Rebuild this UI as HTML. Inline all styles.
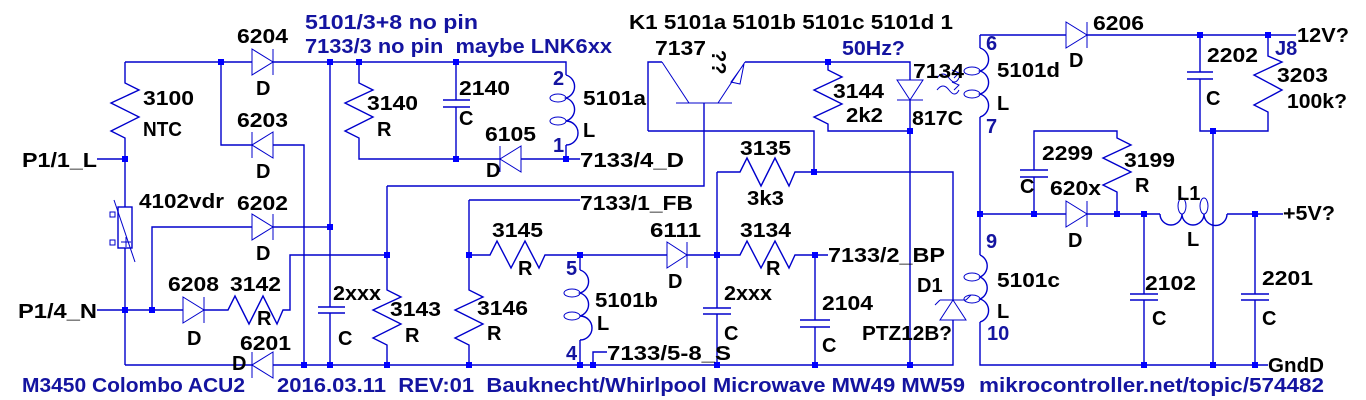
<!DOCTYPE html>
<html><head><meta charset="utf-8"><style>
html,body{margin:0;padding:0;background:#fff;width:1366px;height:400px;overflow:hidden}
svg{display:block}
text{font-family:"Liberation Sans",sans-serif;font-weight:bold;font-size:20px;fill:#000}
.b{fill:#1414a0}
.w{stroke:#0000cc;stroke-width:1.4;fill:none}
.t{stroke:#0000cc;stroke-width:1;fill:none}
.j{fill:#0000ff}
</style></head><body>
<svg width="1366" height="400" viewBox="0 0 1366 400">
<g class="w">
<path d="M125,62H252M273,62H566V75"/>
<path d="M125,62V83L139,90L111,103L139,117L111,131L125,138V207M125,248V365"/>
<rect x="118" y="207" width="14" height="41"/>
<path d="M114,200L135,262" class="t"/>
<rect x="110" y="212" width="5" height="5" class="t"/><rect x="110" y="240" width="5" height="5" class="t"/>
<path d="M121,242H131M126,237V247" class="t"/>
<path d="M97,159H125M97,310H183M204,310H228L235,296L249,324L263,296L277,324L283,310H290V255H387"/>
<path d="M221,62V145H252M273,145H304V365"/>
<path d="M152,310V227H252M273,227H330"/>
<path d="M125,365H252M273,365H953V352"/>
<path d="M330,62V307M318,307H345M318,313H345M330,313V365"/>
<path d="M359,62V83L373,90L345,103L373,117L345,131L359,138V159H500M521,159H580"/>
<path d="M456,62V100M443,100H470M443,107H470M456,107V159"/>
<path d="M566,145V159"/>
<path d="M387,186V290L401,297L373,310L401,324L373,338L387,345V365M387,186H704V103"/>
<path d="M648,131V62H662M745,62H910V80M910,100V365"/>
<path d="M828,62V70L842,77L814,90L842,104L814,117L828,124V131H910"/>
<path d="M648,131H814V172"/>
<path d="M717,172H740L747,158L761,186L775,158L789,186L795,172H953V300M953,320V352"/>
<path d="M717,172V308M703,308H731M703,314H731M717,314V365"/>
<path d="M469,200H580M469,200V290L483,297L455,310L483,324L455,338L469,345V365"/>
<path d="M469,255H490L497,241L511,268L525,241L539,268L545,255H667M687,255H740L747,241L761,268L775,241L789,268L795,255H828"/>
<path d="M580,255V270M580,340V365M593,365V352H607"/>
<path d="M815,255V320M800,320H830M800,327H830M815,327V365"/>
<path d="M980,35V48M980,35H1066M1087,35H1296"/>
<path d="M980,117V255M980,322V365H1268"/>
<path d="M1200,35V72M1187,72H1213M1187,79H1213M1200,79V131H1268V112L1254,105L1282,90L1254,75L1282,62L1268,56V35"/>
<path d="M1213,131V365"/>
<path d="M980,214H1066M1087,214H1160M1227,214H1283"/>
<path d="M1034,214V177M1020,177H1048M1020,170H1048M1034,170V131H1117V138L1131,145L1103,158L1131,172L1103,185L1117,192V214"/>
<path d="M1144,214V294M1130,294H1158M1130,300H1158M1144,300V365"/>
<path d="M1255,214V294M1241,294H1269M1241,300H1269M1255,300V365"/>
<path d="M566,75A12,12 0 0 1 566,98A12,12 0 0 1 566,121A12,12 0 0 1 566,145"/>
<path d="M580,270A12,12 0 0 1 580,293A12,12 0 0 1 580,316A12,12 0 0 1 580,340"/>
<path d="M980,48A12,12 0 0 1 980,71A12,12 0 0 1 980,94A12,12 0 0 1 980,117"/>
<path d="M980,255A12,12 0 0 1 980,277A12,12 0 0 1 980,299A12,12 0 0 1 980,322"/>
<path d="M1160,214A11,11 0 0 0 1182,214A11,11 0 0 0 1204,214A11,11 0 0 0 1227,214"/>
</g>
<g class="t">
<ellipse cx="558" cy="98" rx="8" ry="4"/><ellipse cx="558" cy="121" rx="8" ry="4"/>
<ellipse cx="572" cy="293" rx="8" ry="4"/><ellipse cx="572" cy="316" rx="8" ry="4"/>
<ellipse cx="972" cy="71" rx="8" ry="4"/><ellipse cx="972" cy="94" rx="8" ry="4"/>
<ellipse cx="972" cy="277" rx="8" ry="4"/><ellipse cx="972" cy="299" rx="8" ry="4"/>
<ellipse cx="1182" cy="206" rx="4" ry="8"/><ellipse cx="1204" cy="206" rx="4" ry="8"/>
<path d="M252,49V75L273,62ZM273,49V75"/>
<path d="M273,132V158L252,145ZM252,132V158"/>
<path d="M252,214V240L273,227ZM273,214V240"/>
<path d="M183,297V323L204,310ZM204,297V323"/>
<path d="M273,352V378L252,365ZM252,352V378"/>
<path d="M521,146V172L500,159ZM500,146V172"/>
<path d="M667,242V268L687,255ZM687,242V268"/>
<path d="M1066,22V48L1087,35ZM1087,22V48"/>
<path d="M1066,201V227L1087,214ZM1087,201V227"/>
<path d="M897,80H923L910,100ZM897,100H923"/>
<path d="M940,320H966L953,300ZM940,300H966M940,300L935,305M966,300L971,295"/>
<path d="M937,78q6,-8 12,0t10,0M952,70l7,3l-5,5M937,90q6,-8 12,0t10,0M952,82l7,3l-5,5"/>
<path d="M662,62L689,103M676,103H732M718,103L745,62M731,82L744,64L740,84Z"/>
</g>
<g class="j">
<rect x="218" y="59" width="6" height="6"/><rect x="327" y="59" width="6" height="6"/><rect x="356" y="59" width="6" height="6"/><rect x="453" y="59" width="6" height="6"/>
<rect x="122" y="156" width="6" height="6"/><rect x="122" y="307" width="6" height="6"/><rect x="149" y="307" width="6" height="6"/><rect x="327" y="224" width="6" height="6"/>
<rect x="384" y="252" width="6" height="6"/><rect x="301" y="362" width="6" height="6"/><rect x="327" y="362" width="6" height="6"/><rect x="384" y="362" width="6" height="6"/>
<rect x="453" y="156" width="6" height="6"/><rect x="563" y="156" width="6" height="6"/><rect x="825" y="59" width="6" height="6"/><rect x="907" y="128" width="6" height="6"/>
<rect x="811" y="169" width="6" height="6"/><rect x="714" y="252" width="6" height="6"/><rect x="466" y="252" width="6" height="6"/><rect x="577" y="252" width="6" height="6"/>
<rect x="812" y="252" width="6" height="6"/><rect x="466" y="362" width="6" height="6"/><rect x="577" y="362" width="6" height="6"/><rect x="590" y="362" width="6" height="6"/>
<rect x="714" y="362" width="6" height="6"/><rect x="812" y="362" width="6" height="6"/><rect x="907" y="362" width="6" height="6"/>
<rect x="1197" y="32" width="6" height="6"/><rect x="1265" y="32" width="6" height="6"/><rect x="1210" y="128" width="6" height="6"/>
<rect x="977" y="211" width="6" height="6"/><rect x="1031" y="211" width="6" height="6"/><rect x="1114" y="211" width="6" height="6"/><rect x="1141" y="211" width="6" height="6"/><rect x="1252" y="211" width="6" height="6"/>
<rect x="1141" y="362" width="6" height="6"/><rect x="1210" y="362" width="6" height="6"/><rect x="1252" y="362" width="6" height="6"/>
</g>
<g>
<text x="305" y="29" class="b" lengthAdjust="spacingAndGlyphs" textLength="173">5101/3+8 no pin</text>
<text x="305" y="53" class="b" lengthAdjust="spacingAndGlyphs" textLength="307" xml:space="preserve">7133/3 no pin  maybe LNK6xx</text>
<text x="237" y="43" lengthAdjust="spacingAndGlyphs" textLength="51">6204</text><text x="256" y="95">D</text>
<text x="143" y="105" lengthAdjust="spacingAndGlyphs" textLength="51">3100</text><text x="143" y="136" lengthAdjust="spacingAndGlyphs" textLength="39">NTC</text>
<text x="237" y="127" lengthAdjust="spacingAndGlyphs" textLength="51">6203</text><text x="256" y="178">D</text>
<text x="22" y="167" lengthAdjust="spacingAndGlyphs" textLength="75">P1/1_L</text>
<text x="139" y="208" lengthAdjust="spacingAndGlyphs" textLength="85">4102vdr</text><text x="237" y="210" lengthAdjust="spacingAndGlyphs" textLength="51">6202</text><text x="256" y="260">D</text>
<text x="168" y="291" lengthAdjust="spacingAndGlyphs" textLength="51">6208</text><text x="230" y="291" lengthAdjust="spacingAndGlyphs" textLength="51">3142</text><text x="257" y="325">R</text><text x="187" y="345">D</text>
<text x="18" y="318" lengthAdjust="spacingAndGlyphs" textLength="79">P1/4_N</text>
<text x="240" y="350" lengthAdjust="spacingAndGlyphs" textLength="51">6201</text><text x="232" y="370">D</text>
<text x="333" y="300" lengthAdjust="spacingAndGlyphs" textLength="48">2xxx</text><text x="338" y="345">C</text>
<text x="390" y="316" lengthAdjust="spacingAndGlyphs" textLength="51">3143</text><text x="405" y="342">R</text>
<text x="367" y="110" lengthAdjust="spacingAndGlyphs" textLength="51">3140</text><text x="377" y="136">R</text>
<text x="459" y="95" lengthAdjust="spacingAndGlyphs" textLength="51">2140</text><text x="459" y="125">C</text>
<text x="583" y="105" lengthAdjust="spacingAndGlyphs" textLength="63">5101a</text><text x="583" y="137">L</text>
<text x="553" y="85" class="b">2</text><text x="553" y="152" class="b">1</text>
<text x="485" y="141" lengthAdjust="spacingAndGlyphs" textLength="51">6105</text><text x="486" y="177">D</text>
<text x="580" y="167" lengthAdjust="spacingAndGlyphs" textLength="104">7133/4_D</text>
<text x="629" y="29" lengthAdjust="spacingAndGlyphs" textLength="324">K1 5101a 5101b 5101c 5101d 1</text>
<text x="655" y="55" lengthAdjust="spacingAndGlyphs" textLength="51">7137</text>
<text transform="translate(712,50) rotate(90)" font-size="16">??</text>
<text x="842" y="55" class="b" lengthAdjust="spacingAndGlyphs" textLength="63">50Hz?</text>
<text x="913" y="78" lengthAdjust="spacingAndGlyphs" textLength="51">7134</text><text x="833" y="98" lengthAdjust="spacingAndGlyphs" textLength="51">3144</text><text x="846" y="122" lengthAdjust="spacingAndGlyphs" textLength="37">2k2</text><text x="912" y="125" lengthAdjust="spacingAndGlyphs" textLength="51">817C</text>
<text x="740" y="155" lengthAdjust="spacingAndGlyphs" textLength="51">3135</text><text x="747" y="205" lengthAdjust="spacingAndGlyphs" textLength="37">3k3</text>
<text x="580" y="210" lengthAdjust="spacingAndGlyphs" textLength="113">7133/1_FB</text>
<text x="492" y="237" lengthAdjust="spacingAndGlyphs" textLength="51">3145</text><text x="518" y="275">R</text><text x="650" y="237" lengthAdjust="spacingAndGlyphs" textLength="51">6111</text><text x="668" y="288">D</text>
<text x="740" y="237" lengthAdjust="spacingAndGlyphs" textLength="51">3134</text><text x="766" y="275">R</text><text x="828" y="262" lengthAdjust="spacingAndGlyphs" textLength="117">7133/2_BP</text>
<text x="917" y="292">D1</text><text x="822" y="310" lengthAdjust="spacingAndGlyphs" textLength="51">2104</text><text x="862" y="340" lengthAdjust="spacingAndGlyphs" textLength="90">PTZ12B?</text><text x="822" y="352">C</text>
<text x="566" y="275" class="b">5</text><text x="595" y="307" lengthAdjust="spacingAndGlyphs" textLength="63">5101b</text><text x="597" y="330">L</text><text x="566" y="360" class="b">4</text>
<text x="477" y="315" lengthAdjust="spacingAndGlyphs" textLength="51">3146</text><text x="487" y="340">R</text>
<text x="724" y="300" lengthAdjust="spacingAndGlyphs" textLength="48">2xxx</text><text x="724" y="340">C</text>
<text x="607" y="360" lengthAdjust="spacingAndGlyphs" textLength="124">7133/5-8_S</text>
<text x="1093" y="30" lengthAdjust="spacingAndGlyphs" textLength="51">6206</text><text x="1069" y="67">D</text>
<text x="986" y="50" class="b">6</text><text x="997" y="77" lengthAdjust="spacingAndGlyphs" textLength="63">5101d</text><text x="997" y="110">L</text><text x="986" y="133" class="b">7</text>
<text x="1207" y="62" lengthAdjust="spacingAndGlyphs" textLength="51">2202</text><text x="1206" y="105">C</text><text x="1275" y="55" class="b">J8</text>
<text x="1277" y="82" lengthAdjust="spacingAndGlyphs" textLength="51">3203</text><text x="1287" y="108" lengthAdjust="spacingAndGlyphs" textLength="60">100k?</text><text x="1297" y="42" lengthAdjust="spacingAndGlyphs" textLength="52">12V?</text>
<text x="1042" y="160" lengthAdjust="spacingAndGlyphs" textLength="51">2299</text><text x="1020" y="193">C</text><text x="1124" y="167" lengthAdjust="spacingAndGlyphs" textLength="51">3199</text><text x="1135" y="192">R</text>
<text x="1050" y="195" lengthAdjust="spacingAndGlyphs" textLength="51">620x</text><text x="1068" y="247">D</text><text x="1177" y="200">L1</text><text x="1187" y="246">L</text>
<text x="1283" y="220" lengthAdjust="spacingAndGlyphs" textLength="52">+5V?</text>
<text x="986" y="248" class="b">9</text><text x="997" y="287" lengthAdjust="spacingAndGlyphs" textLength="63">5101c</text><text x="997" y="318">L</text><text x="987" y="340" class="b">10</text>
<text x="1145" y="290" lengthAdjust="spacingAndGlyphs" textLength="51">2102</text><text x="1152" y="325">C</text><text x="1262" y="285" lengthAdjust="spacingAndGlyphs" textLength="51">2201</text><text x="1262" y="325">C</text>
<text x="1268" y="372" lengthAdjust="spacingAndGlyphs" textLength="56">GndD</text>
<text x="22" y="392" class="b" lengthAdjust="spacingAndGlyphs" textLength="223">M3450 Colombo ACU2</text>
<text x="277" y="392" class="b" lengthAdjust="spacingAndGlyphs" textLength="688" xml:space="preserve">2016.03.11  REV:01  Bauknecht/Whirlpool Microwave MW49 MW59</text>
<text x="979" y="392" class="b" lengthAdjust="spacingAndGlyphs" textLength="345">mikrocontroller.net/topic/574482</text>
</g>
</svg>
</body></html>
